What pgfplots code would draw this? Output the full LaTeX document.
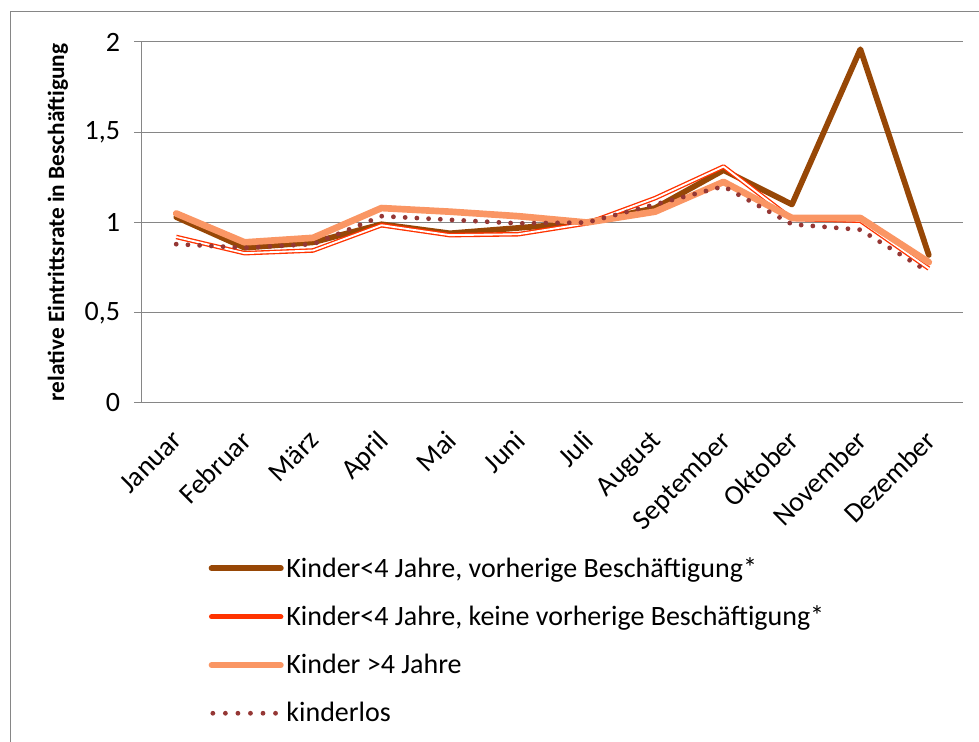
\documentclass[border=0pt]{standalone}
\usepackage{pgfplots}
\pgfplotsset{compat=1.18}
\usepackage{fontspec}
\setmainfont{Carlito}
\definecolor{cbrown}{RGB}{151,71,6}
\definecolor{cred}{RGB}{255,51,0}
\definecolor{corange}{RGB}{250,150,100}
\definecolor{cdot}{RGB}{149,55,53}
\definecolor{cgrid}{RGB}{134,134,134}
\pgfplotstableread{
x brown red orange dot
0 1.03 0.92 1.05 0.88
1 0.86 0.83 0.89 0.86
2 0.89 0.845 0.915 0.88
3 0.99 0.985 1.08 1.035
4 0.94 0.93 1.06 1.015
5 0.97 0.935 1.035 0.995
6 1.00 0.995 1.00 1.00
7 1.08 1.135 1.06 1.10
8 1.29 1.31 1.225 1.20
9 1.10 1.02 1.025 0.99
10 1.96 1.01 1.025 0.96
11 0.82 0.745 0.78 0.725
}\datatable
\begin{document}
\begin{tikzpicture}
\path[use as bounding box] (0,0) rectangle (734.25pt,556.5pt);
\draw[cgrid, line width=0.75pt] (7.5pt,0pt) -- (7.5pt,547.5pt) -- (734.25pt,547.5pt);
\begin{axis}[
  at={(106.5pt,254.25pt)}, anchor=south west,
  scale only axis, width=615.75pt, height=270.75pt,
  xmin=-0.5, xmax=11.5, ymin=0, ymax=2,
  axis x line=bottom, axis y line=left,
  axis line style={cgrid, line width=0.75pt, -},
  xtick={0,...,11},
  xticklabels={Januar,Februar,März,April,Mai,Juni,Juli,August,September,Oktober,November,Dezember},
  x tick style={draw=none},
  extra x ticks={-0.5,0.5,...,11.5},
  extra x tick labels={},
  extra x tick style={tick style={cgrid, line width=0.75pt, draw=cgrid}, major tick length=6pt, tick align=outside, grid=none},
  ytick={0,0.5,...,2},
  y tick style={cgrid, line width=0.75pt},
  major tick length=6pt, tick align=outside,
  ymajorgrids, major grid style={cgrid, line width=0.75pt},
  /pgf/number format/use comma,
  /pgf/number format/assume math mode=true,
  tick label style={font=\fontsize{21}{24}\selectfont, black},
  xticklabel style={xshift=-4pt, yshift=-8.5pt, rotate=45, anchor=north east},
  yticklabel style={xshift=-7pt},
  ylabel={\bfseries relative Eintrittsrate in Beschäftigung},
  ylabel style={font=\fontsize{17.5}{20}\selectfont, at={(axis description cs:-0.1025,0.5)}, anchor=center},
  legend style={draw=none, fill=none, at={(axis description cs:0.076,-0.412)}, anchor=north west,
    font=\fontsize{21}{24}\selectfont, row sep=16pt},
  legend cell align=left,
]
\addlegendimage{cbrown, line width=4.3pt, line cap=round, legend image code/.code={\draw (0pt,0pt) -- (52pt,0pt);}}
\addlegendentry{Kinder<4 Jahre, vorherige Beschäftigung*}
\addlegendimage{cred, line width=3.8pt, line cap=round, legend image code/.code={\draw (0pt,0pt) -- (52pt,0pt);}}
\addlegendentry{Kinder<4 Jahre, keine vorherige Beschäftigung*}
\addlegendimage{corange, line width=4.3pt, line cap=round, legend image code/.code={\draw (0pt,0pt) -- (52pt,0pt);}}
\addlegendentry{Kinder >4 Jahre}
\addlegendimage{cdot, line width=3.6pt, line cap=round, dash pattern=on 0pt off 9.4pt, legend image code/.code={\draw (1pt,0pt) -- (52pt,0pt);}}
\addlegendentry{kinderlos}
\addplot[forget plot, cbrown, line width=4.3pt, line cap=round, line join=round]
  table[x=x, y=brown] {\datatable};
\addplot[forget plot, cred, line width=1pt, double=white, double distance=1.4pt, line join=round]
  table[x=x, y=red] {\datatable};
\addplot[forget plot, corange, line width=5pt, line cap=round, line join=round]
  table[x=x, y=orange] {\datatable};
\addplot[forget plot, cdot, line width=3.6pt, line cap=round, dash pattern=on 0pt off 8.8pt]
  table[x=x, y=dot] {\datatable};
\end{axis}
\end{tikzpicture}
\end{document}
